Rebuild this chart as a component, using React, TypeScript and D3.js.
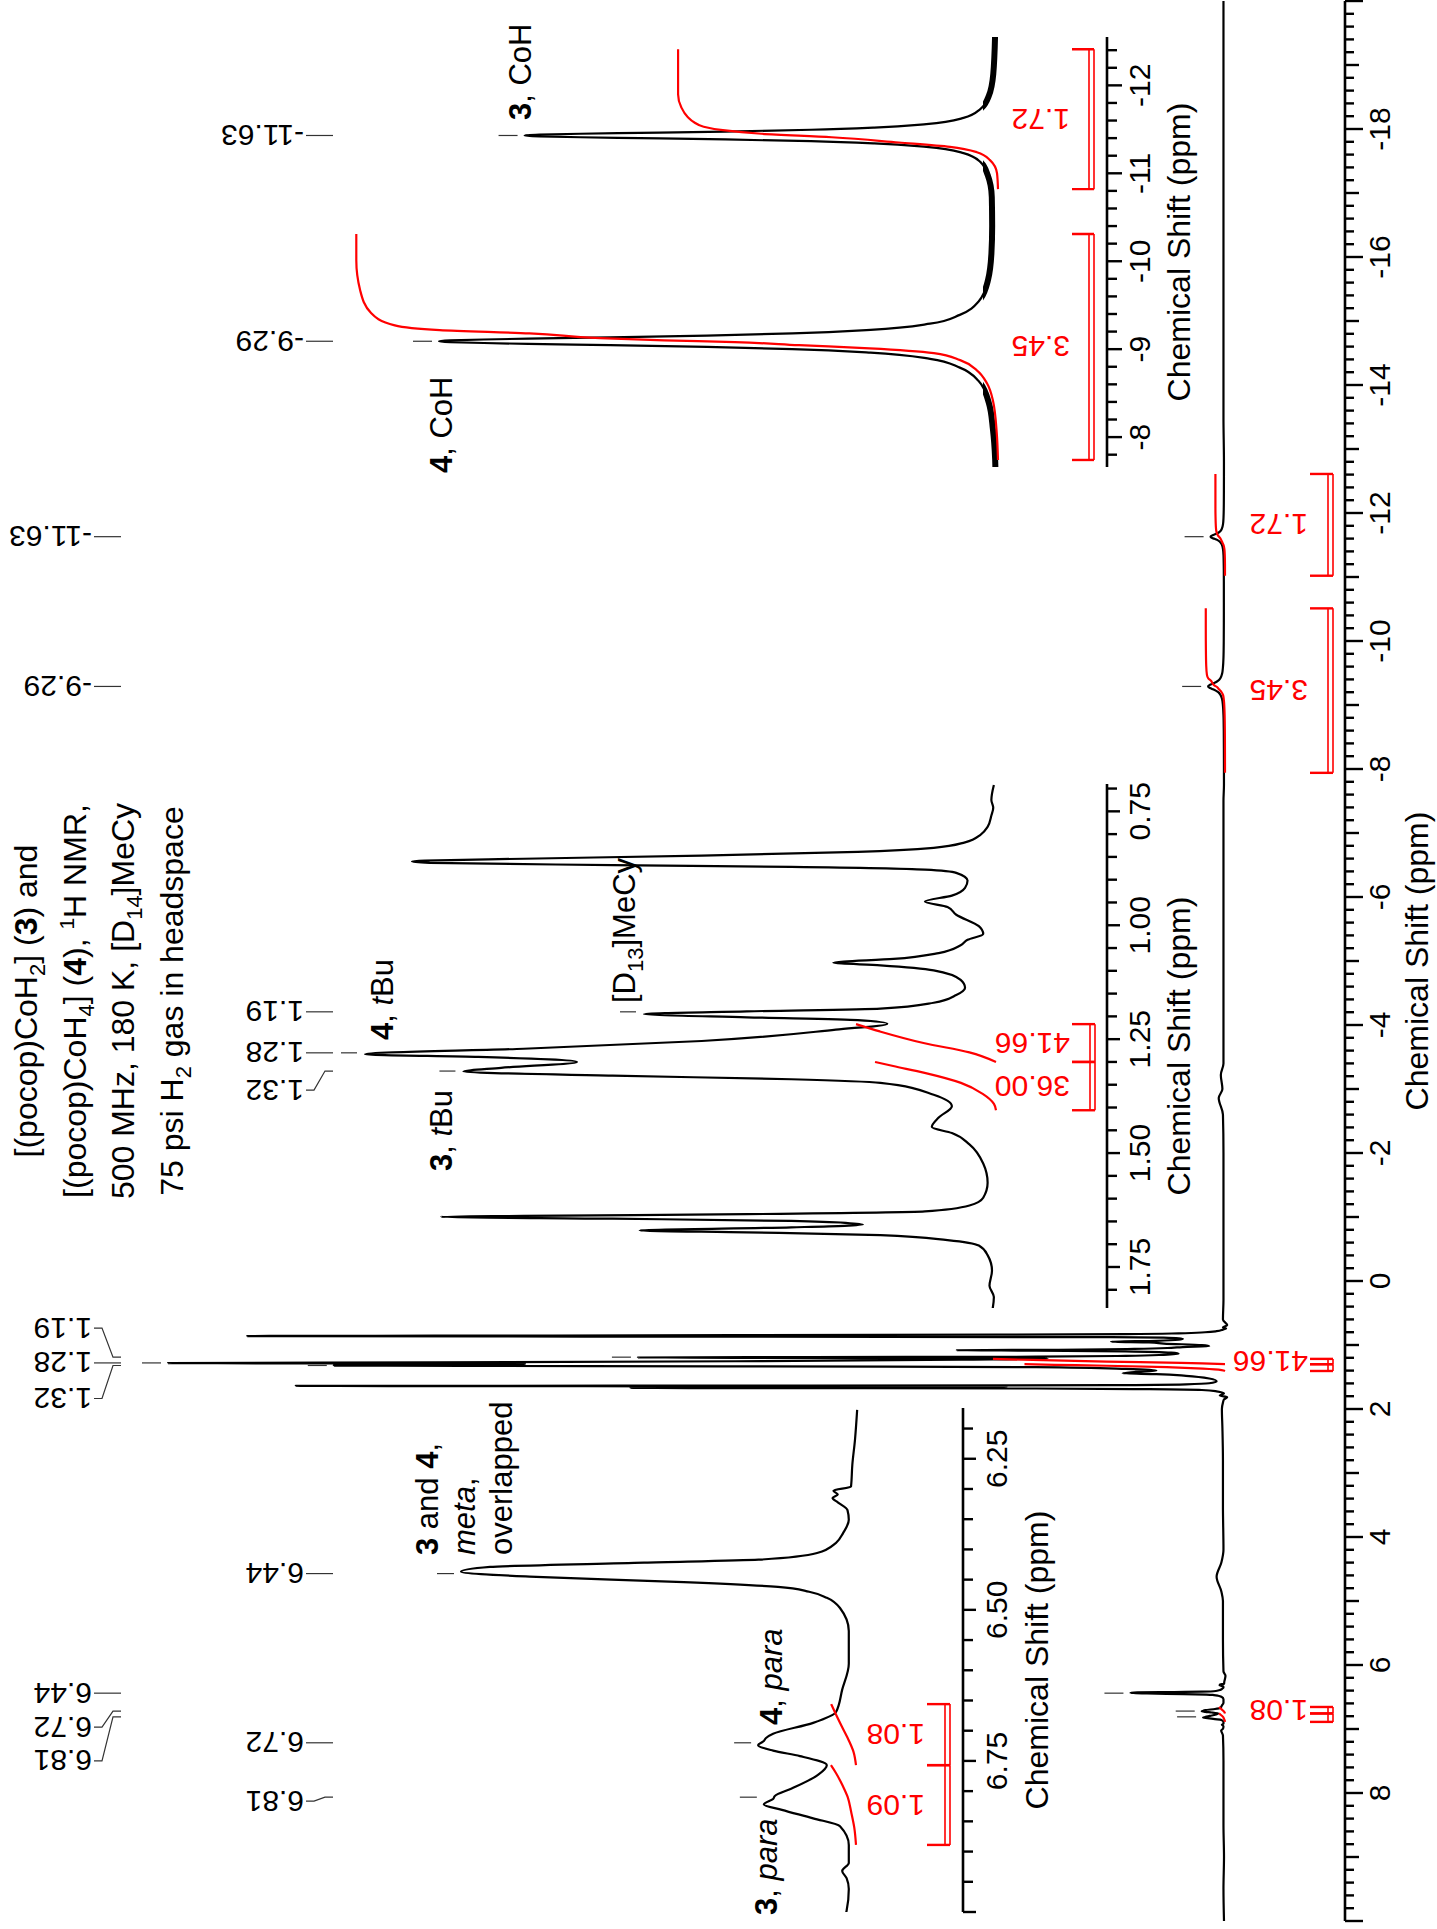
import React from 'react';
import * as d3 from 'd3';

const W = 1437;
const H = 1929;
const FONT = '"Liberation Sans", Arial, Helvetica, sans-serif';
const RED = '#ff0000';

type Pt = [number, number];

// ---------------- spectrum (ppm, intensity; 1.28 ppm line = 100) ----------------
const aromaticRegion: Pt[] = [
  [6.169, -0.14], [6.219, -0.09], [6.26, -0.03], [6.296, 0], [6.303, 0.4], [6.309, 0.3], [6.315, 0.42],
  [6.322, 0.3], [6.335, 0.08], [6.351, 0.05], [6.373, 0.18], [6.389, 0.34], [6.406, 0.77], [6.417, 2.1],
  [6.422, 4.7], [6.429, 8.2], [6.437, 8.86], [6.445, 7.3], [6.454, 3.8], [6.462, 1.66], [6.47, 0.95],
  [6.48, 0.55], [6.497, 0.25], [6.535, 0.05], [6.589, 0.05], [6.632, 0.2], [6.669, 0.34], [6.687, 0.86],
  [6.705, 1.77], [6.712, 1.93], [6.717, 1.98], [6.724, 2.11], [6.733, 1.77], [6.742, 1.16], [6.757, 0.55],
  [6.773, 0.75], [6.796, 1.36], [6.808, 1.73], [6.813, 1.77], [6.822, 1.98], [6.831, 1.57], [6.845, 0.86],
  [6.858, 0.25], [6.889, 0.05], [6.919, 0.05], [6.932, 0.2], [6.944, 0.1], [6.962, 0.05], [6.998, 0.1],
  [7.023, 0.27],
];

const tBuRegion: Pt[] = [
  [0.692, -0.3], [0.725, 0.1], [0.742, -0.2], [0.759, 0.1], [0.784, 0.7], [0.801, 1.8], [0.818, 4.3],
  [0.83, 9.3], [0.839, 21.4], [0.847, 46.3], [0.854, 74.7], [0.858, 90.4], [0.86, 92.5], [0.863, 89.7],
  [0.868, 60.5], [0.872, 32], [0.878, 10.7], [0.885, 5.7], [0.902, 3.9], [0.918, 4.3], [0.935, 6.4],
  [0.948, 10.7], [0.96, 7.1], [0.977, 5.7], [1.002, 2.1], [1.019, 1.4], [1.032, 3.9], [1.044, 5.0],
  [1.061, 8.5], [1.074, 15.7], [1.082, 25.3], [1.088, 17.8], [1.099, 9.3], [1.12, 5.0], [1.137, 4.3],
  [1.153, 5.7], [1.17, 9.3], [1.183, 17.8], [1.189, 39.1], [1.195, 55.5], [1.202, 39.1], [1.208, 21.4],
  [1.216, 16.7], [1.229, 24.9], [1.254, 46.3], [1.271, 74.7], [1.283, 100], [1.289, 81.9], [1.3, 66.2],
  [1.313, 78.3], [1.321, 84.3], [1.33, 60.5], [1.338, 32], [1.346, 17.8], [1.372, 9.3], [1.397, 6.4],
  [1.422, 8.5], [1.443, 9.6], [1.456, 6.4], [1.481, 3.6], [1.523, 1.4], [1.565, 0.7], [1.598, 1.4],
  [1.615, 3.6], [1.628, 10.7], [1.634, 39.1], [1.638, 74.7], [1.64, 87.9], [1.644, 60.5], [1.649, 32],
  [1.657, 20.6], [1.663, 32], [1.67, 56.2], [1.674, 39.1], [1.68, 17.8], [1.691, 7.1], [1.703, 2.1],
  [1.724, 0.7], [1.758, 0], [1.791, 0.4], [1.816, -0.3], [1.85, 0],
];

const hydrideRegion: Pt[] = [
  [-7.75, 0.004], [-7.95, 0.005], [-8.29, 0.011], [-8.59, 0.022], [-8.84, 0.05], [-8.99, 0.1],
  [-9.09, 0.18], [-9.16, 0.34], [-9.2, 0.55], [-9.225, 0.78], [-9.245, 1.04], [-9.26, 1.26],
  [-9.27, 1.38], [-9.28, 1.47], [-9.29, 1.5], [-9.3, 1.47], [-9.31, 1.38], [-9.32, 1.26],
  [-9.335, 1.04], [-9.355, 0.78], [-9.38, 0.55], [-9.42, 0.34], [-9.49, 0.18], [-9.59, 0.1],
  [-9.74, 0.05], [-9.99, 0.024], [-10.29, 0.015], [-10.6, 0.013], [-10.93, 0.014], [-11.18, 0.025],
  [-11.33, 0.045], [-11.43, 0.09], [-11.5, 0.19], [-11.54, 0.33], [-11.565, 0.5], [-11.585, 0.73],
  [-11.6, 0.96], [-11.61, 1.12], [-11.62, 1.23], [-11.63, 1.27], [-11.64, 1.23], [-11.65, 1.12],
  [-11.66, 0.96], [-11.675, 0.73], [-11.695, 0.5], [-11.72, 0.33], [-11.76, 0.19], [-11.83, 0.09],
  [-11.93, 0.045], [-12.08, 0.022], [-12.33, 0.01], [-12.8, 0.005],
];

const mainBaseline: Pt[] = [
  [10, 0], [9.5, 0.05], [9, 0], [8.5, 0.05], [8, 0.05], [7.5, 0.05], [7.1, 0.1],
  [6.1, 0.05], [5.6, 0.1], [5.0, 0.1], [4.85, 0.25], [4.62, 0.7], [4.4, 0.25], [4.2, 0.05],
  [3.5, 0.1], [2.8, 0.1], [2.3, 0.15], [2.0, 0.2], [1.9, 0.1],
  [0.6, 0.1], [0.3, 0.05], [0, 0.05], [-1, 0.05], [-2, 0.05], [-2.6, 0.1], [-2.86, 0.5],
  [-3.0, 0.15], [-3.22, 0.3], [-3.4, 0.05], [-5, 0.05], [-6.5, 0.05], [-7.5, 0.05],
  [-13.5, 0.05], [-15, 0.05], [-17, 0.05], [-19, 0.05], [-20, 0.05],
];

// ---------------- integrals ----------------
const integralValues = [1.09, 1.08, 36.0, 41.66, 3.45, 1.72];
const integralRanges: Pt[] = [
  [6.889, 6.757], [6.757, 6.656], [1.406, 1.3], [1.3, 1.217], [-7.94, -10.51], [-11.02, -12.61],
];
const integralCurve109: Pt[] = [[6.889, 0], [6.86, 0.07], [6.835, 0.19], [6.81, 0.33], [6.792, 0.52], [6.77, 0.8], [6.757, 1]];
const integralCurve108: Pt[] = [[6.757, 0], [6.735, 0.1], [6.717, 0.28], [6.694, 0.56], [6.672, 0.82], [6.656, 1]];
const integralCurve3600: Pt[] = [[1.406, 0], [1.392, 0.017], [1.37, 0.11], [1.346, 0.29], [1.324, 0.59], [1.309, 0.85], [1.3, 1]];
const integralCurve4166: Pt[] = [[1.3, 0], [1.279, 0.19], [1.259, 0.51], [1.233, 0.83], [1.217, 1]];
const integralCurve345: Pt[] = [
  [-7.94, 0], [-8.25, 0.002], [-8.62, 0.008], [-8.81, 0.017], [-8.96, 0.033], [-9.075, 0.059],
  [-9.155, 0.1], [-9.21, 0.2], [-9.245, 0.31], [-9.28, 0.41], [-9.3, 0.52], [-9.325, 0.62],
  [-9.38, 0.73], [-9.416, 0.87], [-9.47, 0.94], [-9.61, 0.977], [-9.87, 0.994], [-10.21, 1], [-10.51, 1],
];
const integralCurve172: Pt[] = [
  [-11.02, 0], [-11.2, 0.003], [-11.35, 0.025], [-11.44, 0.066], [-11.5, 0.15], [-11.55, 0.31],
  [-11.61, 0.52], [-11.65, 0.74], [-11.69, 0.86], [-11.73, 0.92], [-11.78, 0.95], [-11.84, 0.97],
  [-11.95, 0.99], [-12.1, 1], [-12.61, 1],
];
const integralCurves = [integralCurve109, integralCurve108, integralCurve3600, integralCurve4166, integralCurve345, integralCurve172];

// ---------------- peak labels & tick labels ----------------
const hydridePeaks = [-11.63, -9.29];
const tBuPeaks = [1.19, 1.28, 1.32];
const aromaticPeaks = [6.44, 6.72, 6.81];

const mainTickLabels = [8, 6, 4, 2, 0, -2, -4, -6, -8, -10, -12, -14, -16, -18];
const hydrideTickLabels = [-8, -9, -10, -11, -12];
const tBuTickLabels = [0.75, 1.0, 1.25, 1.5, 1.75];
const aromaticTickLabels = [6.25, 6.5, 6.75];

// ---------------- layout (inner frame: ix = H - screenY, iy = screenX) ----------------
const xMain = d3.scaleLinear().domain([10, -20]).range([H - 1921, H - 1]);
const yMain = d3.scaleLinear().domain([0, 100]).range([1224, 168]);
const xHyd = d3.scaleLinear().domain([-7.66, -12.55]).range([H - 467, H - 37]);
const yHyd = d3.scaleLinear().domain([0, 1.5]).range([997, 439]);
const xTbu = d3.scaleLinear().domain([1.84, 0.69]).range([H - 1308, H - 784]);
const yTbu = d3.scaleLinear().domain([0, 100]).range([992, 365]);
const xAro = d3.scaleLinear().domain([7.0, 6.166]).range([H - 1912, H - 1408]);
const yAro = d3.scaleLinear().domain([0, 8.86]).range([851, 461]);
const hydrideInsetShift = 0.2;

type Lin = d3.ScaleLinear<number, number>;

function pathOf(pts: Pt[], x: Lin, y: (v: number) => number, shift = 0): string {
  const arr = pts
    .map(([p, v]) => [x(p + shift), y(v)] as [number, number])
    .sort((a, b) => a[0] - b[0]);
  const clean = arr.filter((d, i) => i === 0 || d[0] - arr[i - 1][0] > 1e-6);
  return d3.line().curve(d3.curveMonotoneX)(clean) || '';
}

const isInt = (v: number) => Math.abs(v - Math.round(v)) < 1e-6;
const isMult = (v: number, m: number) => Math.abs(v / m - Math.round(v / m)) < 1e-6;

function Axis(props: {
  x: Lin; y0: number; ticks: number[]; len: (t: number) => number; labels: number[];
  fmt: (t: number) => string; labelY: number; titleY: number; titleX?: number;
}) {
  const { x, y0, ticks, len, labels, fmt, labelY, titleY } = props;
  const [r0, r1] = x.range();
  const tx = props.titleX ?? (r0 + r1) / 2;
  return (
    <g>
      <line x1={Math.min(r0, r1)} x2={Math.max(r0, r1)} y1={y0} y2={y0} stroke="#000" strokeWidth={2.6} />
      {ticks.map((t, i) => (
        <line key={i} x1={x(t)} x2={x(t)} y1={y0} y2={y0 + len(t)} stroke="#000" strokeWidth={2.4} />
      ))}
      {labels.map((t, i) => (
        <text key={i} x={x(t)} y={labelY} textAnchor="middle" fontSize={30}>{fmt(t)}</text>
      ))}
      <text x={tx} y={titleY} textAnchor="middle" fontSize={32}>Chemical Shift (ppm)</text>
    </g>
  );
}

function tipOf(data: Pt[], ppm: number, tol = 0.02): number {
  return d3.max(data.filter((d) => Math.abs(d[0] - ppm) <= tol), (d) => d[1]) ?? 0;
}

function PeakLabels(props: {
  peaks: number[]; data: Pt[]; x: Lin; y: (v: number) => number; shift?: number; R: number;
  nudge?: Record<string, number>; gap: number; len: number;
}) {
  const { peaks, data, x, y, R, gap, len } = props;
  const shift = props.shift ?? 0;
  const nudge = props.nudge ?? {};
  return (
    <g>
      {peaks.map((p, i) => {
        const ixP = x(p + shift);
        const ixL = ixP - (nudge[p.toFixed(2)] ?? 0);
        const tip = y(tipOf(data, p));
        const pts = [[ixL, R + 2], [ixL, R + 10], [ixP, R + 21], [ixP, R + 29]].map((d) => d.join(',')).join(' ');
        return (
          <g key={i}>
            <text transform={`translate(${ixL},${R}) rotate(-90)`} textAnchor="start" dominantBaseline="central" fontSize={30}>
              {p.toFixed(2)}
            </text>
            <polyline points={pts} fill="none" stroke="#333" strokeWidth={1.2} />
            <line x1={ixP} x2={ixP} y1={tip - gap - len} y2={tip - gap} stroke="#333" strokeWidth={1.2} />
          </g>
        );
      })}
    </g>
  );
}

function Integrals(props: {
  idx: number[]; x: Lin; shift?: number; base: number; scale: number;
  cap: number; l1: number; l2: number; labelR: number; hideOverlap?: boolean;
}) {
  const { idx, x, base, scale, cap, l1, l2, labelR } = props;
  const shift = props.shift ?? 0;
  const shown: number[] = [];
  const order = [...idx].sort((a, b) => {
    const ca = (integralRanges[a][0] + integralRanges[a][1]) / 2;
    const cb = (integralRanges[b][0] + integralRanges[b][1]) / 2;
    return ca - cb;
  });
  return (
    <g>
      {idx.map((k) => {
        const v = integralValues[k];
        const d = pathOf(integralCurves[k], x, (f) => base - f * v * scale, shift);
        return <path key={'c' + k} d={d} fill="none" stroke={RED} strokeWidth={2.2} />;
      })}
      {idx.map((k) => {
        const a = x(integralRanges[k][0] + shift);
        const b = x(integralRanges[k][1] + shift);
        return (
          <g key={'b' + k} stroke={RED} fill="none">
            <line x1={a} x2={a} y1={cap} y2={l2} strokeWidth={2.4} />
            <line x1={b} x2={b} y1={cap} y2={l2} strokeWidth={2.4} />
            <line x1={Math.min(a, b)} x2={Math.max(a, b)} y1={l1} y2={l1} strokeWidth={1.6} />
            <line x1={Math.min(a, b)} x2={Math.max(a, b)} y1={l2} y2={l2} strokeWidth={1.6} />
          </g>
        );
      })}
      {order.map((k) => {
        const c = x((integralRanges[k][0] + integralRanges[k][1]) / 2 + shift);
        if (props.hideOverlap && shown.some((s) => Math.abs(s - c) < 40)) return null;
        shown.push(c);
        return (
          <text key={'t' + k} transform={`translate(${c},${labelR}) rotate(-90)`} textAnchor="start"
            dominantBaseline="central" fontSize={30} fill={RED}>
            {integralValues[k].toFixed(2)}
          </text>
        );
      })}
    </g>
  );
}

export default function App() {
  const mainData: Pt[] = [...mainBaseline, ...aromaticRegion, ...tBuRegion, ...hydrideRegion];

  const mainTicks = d3.range(-100, 51).map((i) => +(i * 0.2).toFixed(1));
  const hydTicks = d3.range(-62, -38).map((i) => +(i * 0.2).toFixed(1));
  const tbuTicks = d3.range(14, 37).map((i) => +(i * 0.05).toFixed(2));
  const aroTicks = d3.range(124, 141).map((i) => +(i * 0.05).toFixed(2));

  const clipRect = (id: string, x: Lin, y0 = 0, h = W) => {
    const [r0, r1] = x.range();
    return (
      <clipPath id={id}>
        <rect x={Math.min(r0, r1)} y={y0} width={Math.abs(r1 - r0)} height={h} />
      </clipPath>
    );
  };

  return (
    <svg width={W} height={H} viewBox={`0 0 ${W} ${H}`} fontFamily={FONT}
      style={{ position: 'absolute', left: 0, top: 0, background: '#fff' }}>
      <rect x={0} y={0} width={W} height={H} fill="#fff" />
      <g transform={`translate(0,${H}) rotate(-90)`}>
        <defs>
          {clipRect('cHyd', xHyd)}
          {clipRect('cHydNoise', xHyd, 983, 30)}
          {clipRect('cTbu', xTbu)}
          {clipRect('cAro', xAro)}
          {clipRect('cMain', xMain)}
        </defs>

        {/* title */}
        <g fontSize={32} textAnchor="middle">
          <text x={928} y={37}>
            [(pocop)CoH<tspan dy={8} fontSize={22}>2</tspan><tspan dy={-8}>] (</tspan>
            <tspan fontWeight="bold">3</tspan>) and
          </text>
          <text x={928} y={86}>
            [(pocop)CoH<tspan dy={8} fontSize={22}>4</tspan><tspan dy={-8}>] (</tspan>
            <tspan fontWeight="bold">4</tspan>), <tspan dy={-12} fontSize={21}>1</tspan><tspan dy={12}>H NMR,</tspan>
          </text>
          <text x={928} y={134}>
            500 MHz, 180 K, [D<tspan dy={8} fontSize={22}>14</tspan><tspan dy={-8}>]MeCy</tspan>
          </text>
          <text x={928} y={183}>
            75 psi H<tspan dy={8} fontSize={22}>2</tspan><tspan dy={-8}> gas in headspace</tspan>
          </text>
        </g>

        {/* annotations */}
        <g fontSize={31}>
          <text x={H - 120} y={531}><tspan fontWeight="bold">3</tspan>, CoH</text>
          <text x={H - 473} y={452}><tspan fontWeight="bold">4</tspan>, CoH</text>
          <text x={H - 1171} y={452}><tspan fontWeight="bold">3</tspan>, <tspan fontStyle="italic">t</tspan>Bu</text>
          <text x={H - 1040} y={393}><tspan fontWeight="bold">4</tspan>, <tspan fontStyle="italic">t</tspan>Bu</text>
          <text x={H - 1003} y={635}>[D<tspan dy={8} fontSize={22}>13</tspan><tspan dy={-8}>]MeCy</tspan></text>
          <text x={H - 1555} y={438}><tspan fontWeight="bold">3</tspan> and <tspan fontWeight="bold">4</tspan>,</text>
          <text x={H - 1555} y={475}><tspan fontStyle="italic">meta</tspan>,</text>
          <text x={H - 1555} y={512}>overlapped</text>
          <text x={H - 1725} y={782}><tspan fontWeight="bold">4</tspan>, <tspan fontStyle="italic">para</tspan></text>
          <text x={H - 1915} y={777}><tspan fontWeight="bold">3</tspan>, <tspan fontStyle="italic">para</tspan></text>
        </g>

        {/* ---------- main spectrum ---------- */}
        <Axis x={xMain} y0={1345} ticks={mainTicks}
          len={(t) => (isInt(t) ? (Math.round(t) % 2 === 0 ? 18 : 14) : 9)}
          labels={mainTickLabels} fmt={(t) => String(t)} labelY={1390} titleY={1428} titleX={xMain(-5)} />
        <path d={pathOf(mainData, xMain, yMain)} clipPath="url(#cMain)" fill="none" stroke="#000" strokeWidth={2.2} strokeLinejoin="round" />
        <Integrals idx={[0, 1, 2, 3, 4, 5]} x={xMain} base={1225} scale={5.57} cap={1310} l1={1328} l2={1333} labelR={1308} hideOverlap />
        <PeakLabels peaks={[...hydridePeaks, ...tBuPeaks, ...aromaticPeaks]} data={mainData} x={xMain} y={yMain} R={92}
          nudge={{ '1.19': -29, '1.32': 33, '6.72': 16, '6.81': 44 }} gap={7} len={19} />

        {/* ---------- inset: hydrides ---------- */}
        <Axis x={xHyd} y0={1107} ticks={hydTicks} len={(t) => (isInt(t) ? 15 : 10)}
          labels={hydrideTickLabels} fmt={(t) => String(t)} labelY={1150} titleY={1190} />
        <g clipPath="url(#cHyd)">
          <path d={pathOf(hydrideRegion, xHyd, yHyd, hydrideInsetShift)} fill="none" stroke="#000" strokeWidth={2.2} />
        </g>
        <g clipPath="url(#cHydNoise)">
          <path d={pathOf(hydrideRegion, xHyd, yHyd, hydrideInsetShift)} fill="none" stroke="#000" strokeWidth={6} />
        </g>
        <g clipPath="url(#cHyd)">
          <Integrals idx={[4, 5]} x={xHyd} shift={hydrideInsetShift} base={998} scale={186} cap={1072} l1={1089} l2={1094} labelR={1070} />
        </g>
        <PeakLabels peaks={hydridePeaks} data={hydrideRegion} x={xHyd} y={yHyd} shift={hydrideInsetShift} R={304} gap={7} len={19} />

        {/* ---------- inset: tBu ---------- */}
        <Axis x={xTbu} y0={1107} ticks={tbuTicks} len={(t) => (isMult(t, 0.25) ? 13 : 10)}
          labels={tBuTickLabels} fmt={(t) => t.toFixed(2)} labelY={1150} titleY={1190} />
        <g clipPath="url(#cTbu)">
          <path d={pathOf(tBuRegion, xTbu, yTbu)} fill="none" stroke="#000" strokeWidth={2.2} strokeLinejoin="round" />
        </g>
        <Integrals idx={[2, 3]} x={xTbu} base={996} scale={3.36} cap={1072} l1={1090} l2={1095} labelR={1070} />
        <PeakLabels peaks={tBuPeaks} data={tBuRegion} x={xTbu} y={yTbu} R={304} nudge={{ '1.32': 19 }} gap={8} len={16} />

        {/* ---------- inset: aromatic ---------- */}
        <Axis x={xAro} y0={963} ticks={aroTicks} len={(t) => (isMult(t, 0.25) ? 13 : 10)}
          labels={aromaticTickLabels} fmt={(t) => t.toFixed(2)} labelY={1007} titleY={1048} />
        <g clipPath="url(#cAro)">
          <path d={pathOf(aromaticRegion, xAro, yAro)} fill="none" stroke="#000" strokeWidth={2.2} strokeLinejoin="round" />
        </g>
        <Integrals idx={[0, 1]} x={xAro} base={856} scale={23} cap={927} l1={945} l2={950} labelR={925} />
        <PeakLabels peaks={aromaticPeaks} data={aromaticRegion} x={xAro} y={yAro} R={304} nudge={{ '6.81': 4 }} gap={7} len={17} />
      </g>
    </svg>
  );
}
